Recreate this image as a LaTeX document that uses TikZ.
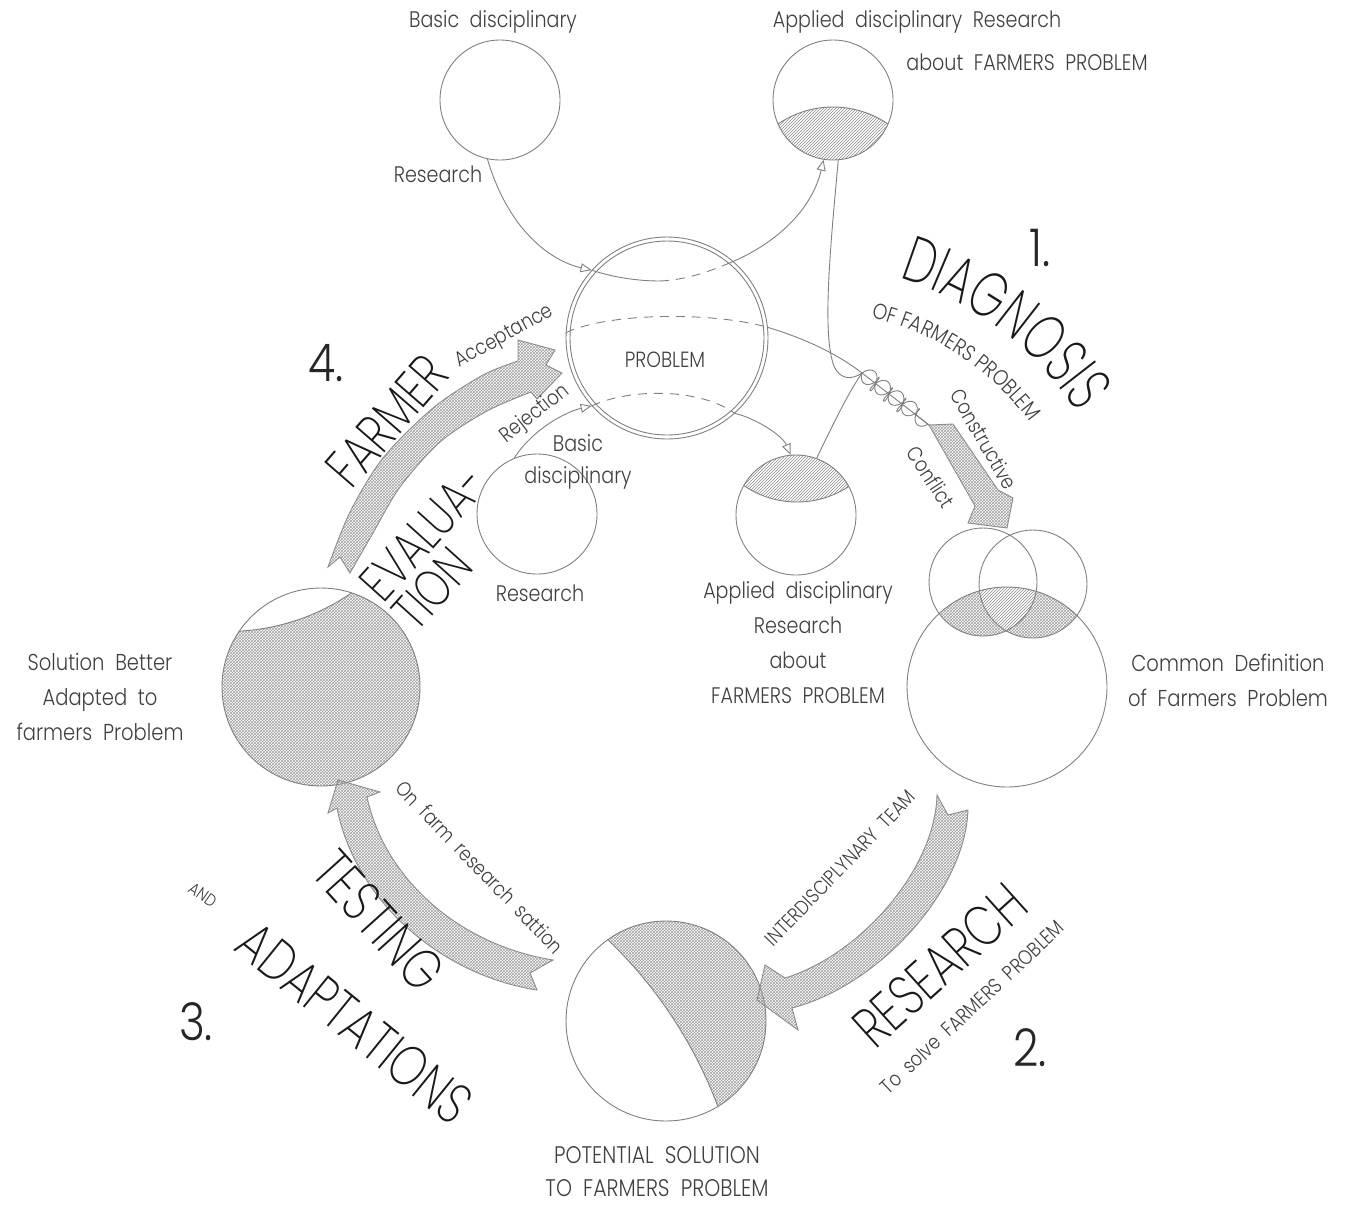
\documentclass[tikz,border=0pt]{standalone}
\usepackage{fontspec}
\usepackage{graphicx}
% lightest Poppins cut that is available
\def\mainfam{Poppins}
\def\bigfam{Poppins}
\IfFontExistsTF{Poppins Light}{\def\mainfam{Poppins Light}\def\bigfam{Poppins Light}}{}
\IfFontExistsTF{Poppins ExtraLight}{\def\bigfam{Poppins ExtraLight}}{}
\expandafter\setmainfont\expandafter{\mainfam}[FakeStretch=0.85]
\expandafter\newfontfamily\expandafter\bigfont\expandafter{\bigfam}[FakeStretch=0.78]
\expandafter\newfontfamily\expandafter\diagfont\expandafter{\bigfam}[FakeStretch=0.70]
\usetikzlibrary{patterns,arrows.meta,decorations.text,decorations.pathmorphing,calc}
\newcommand\fsz[1]{\fontsize{#1}{#1}\selectfont}
\newcommand\fszl[2]{\fontsize{#1}{#2}\selectfont}

\begin{document}
\begin{tikzpicture}[x=1pt,y=1pt,
  sphere/.style={draw=black!50, line width=0.9pt, circle, inner sep=0pt},
  linkline/.style={draw=black!50, line width=0.9pt},
  opentip/.style={-{Triangle[open,length=11pt,width=9pt]}},
  xhatch/.style={pattern=crosshatch, pattern color=black!38},
  dhatch/.style={pattern=north east lines, pattern color=black!45},
  bandfill/.style={draw=black!45, line width=0.9pt, pattern=crosshatch, pattern color=black!38},
  lbltext/.style={text=black!75, font=\fsz{22.5}, inner sep=0pt, align=center},
  tilttext/.style={text=black!75, font=\fsz{21}, inner sep=0pt},
  bigtext/.style={text=black!90, font=\bigfont\fsz{57}, inner sep=0pt},
  numtext/.style={text=black!85, font=\fsz{52}, inner sep=0pt}]
\useasboundingbox (0,0) rectangle (1351,-1205);

% ---------- shaded parts of the spheres ----------
% applied research (top): lower cap
\begin{scope}
  \clip (833,-100) circle (60);
  \fill[dhatch] (833,-204.5) circle (97.5);
\end{scope}
% applied research (middle): upper cap
\begin{scope}
  \clip (796,-515) circle (60);
  \fill[dhatch] (797,-408) circle (94);
\end{scope}
% common definition: overlaps with the two small spheres
\begin{scope}
  \clip (1007,-687) circle (100);
  \fill[xhatch] (983,-582) circle (54);
  \fill[xhatch] (1033,-584) circle (54);
\end{scope}
\begin{scope}
  \clip (1007,-687) circle (100);
  \clip (983,-582) circle (54);
  \fill[white] (1033,-584) circle (54);
  \fill[dhatch] (1033,-584) circle (54);
\end{scope}
% potential solution: right crescent
\begin{scope}
  \clip (666,-1021) circle (100);
  \fill[xhatch, even odd rule] (666,-1021) circle (100) (295.5,-1265) circle (451);
\end{scope}
% solution better adapted: all but a top-left cap
\begin{scope}
  \clip (321,-687) circle (99);
  \fill[xhatch, even odd rule] (321,-687) circle (99) (227,-411.5) circle (220);
\end{scope}

% ---------- spheres ----------
\node[sphere, minimum size=120pt] (bt) at (500,-100) {};
\node[sphere, minimum size=120pt] (at) at (833,-100) {};
\node[sphere, minimum size=202pt] (pr) at (667,-338) {};
\node[sphere, minimum size=194pt] (pri) at (667,-338) {};
\node[sphere, minimum size=120pt] (mb) at (537,-514) {};
\node[sphere, minimum size=120pt] (ma) at (796,-515) {};
\node[sphere, minimum size=200pt] (cd) at (1007,-687) {};
\node[sphere, minimum size=108pt] (cdl) at (983,-582) {};
\node[sphere, minimum size=108pt] (cdr) at (1033,-584) {};
\node[sphere, minimum size=200pt] (ps) at (666,-1021) {};
\node[sphere, minimum size=198pt] (sb) at (321,-687) {};
% inner boundaries of the shaded parts
\begin{scope}
  \clip (833,-100) circle (60);
  \draw[linkline] (833,-204.5) circle (97.5);
\end{scope}
\begin{scope}
  \clip (796,-515) circle (60);
  \draw[linkline] (797,-408) circle (94);
\end{scope}
\begin{scope}
  \clip (666,-1021) circle (100);
  \draw[linkline] (295.5,-1265) circle (451);
\end{scope}
\begin{scope}
  \clip (321,-687) circle (99);
  \draw[linkline] (227,-411.5) circle (220);
\end{scope}

% ---------- research links through the problem ----------
\coordinate (k1) at (862,-373);
\coordinate (k2) at (929,-425);
\draw[linkline, opentip] (bt.258) .. controls (510,-235) and (555,-262) .. (pr.138);
\draw[linkline] (pr.138) .. controls (615,-278) and (640,-281) .. (660,-281);
\draw[linkline, dash pattern=on 9pt off 7pt] (660,-281) .. controls (685,-280) and (708,-272) .. (727,-264);
\draw[linkline, opentip] (727,-264) .. controls (775,-245) and (812,-210) .. (at.261);

\draw[linkline, dash pattern=on 9pt off 7pt] (pr.177) .. controls (610,-312) and (715,-312) .. (pr.6);
\draw[linkline] (pr.6) .. controls (800,-337) and (835,-352) .. (k1);

\draw[linkline, opentip] (mb.112) .. controls (532,-430) and (565,-412) .. (pr.222);
\draw[linkline, dash pattern=on 9pt off 7pt] (pr.222) .. controls (630,-388) and (700,-388) .. (pr.312);
\draw[linkline, opentip] (pr.312) .. controls (755,-418) and (782,-435) .. (ma.95);

\draw[linkline] (ma.70) .. controls (835,-420) and (850,-390) .. (k1);
\draw[linkline] (at.275) .. controls (830,-250) and (822,-335) .. (834,-366)
  .. controls (840,-380) and (852,-380) .. (k1);
% the strands twisting together
\draw[linkline] (k1) -- (k2);
\draw[linkline, decorate, decoration={coil, amplitude=9pt, segment length=17pt}] (k1) -- (k2);
\draw[linkline, decorate, decoration={coil, amplitude=7pt, segment length=17pt, mirror}] (k1) -- (k2);

% ---------- block arrows ----------
% constructive conflict
\path[bandfill] (k2) -- (953,-424) -- (998,-490) -- (1013,-498) -- (1007,-528)
  -- (968,-523) -- (975,-506) -- cycle;
% research
\path[bandfill] (937,-795) -- (948,-815) -- (968,-810)
  .. controls (965,-890) and (880,-985) .. (792,-1008)
  -- (798,-1030) -- (757,-1000) -- (765,-965) -- (785,-978)
  .. controls (860,-955) and (935,-870) .. cycle;
% testing and adaptations
\path[bandfill] (337,-808) .. controls (355,-900) and (440,-975) .. (537,-990)
  -- (530,-973) -- (553,-960)
  .. controls (460,-945) and (385,-880) .. (367,-797)
  -- (380,-792) -- (338,-780) -- (328,-813) -- cycle;
% farmer evaluation (split head)
\path[bandfill] (328,-567) -- (340,-557) -- (350,-573)
  -- plot[smooth] coordinates {(350,-573) (373,-533) (400,-487) (440,-442) (487,-411) (531,-392)}
  -- (537,-399) -- (562,-373) -- (546,-365) -- (555,-350) -- (518,-340) -- (518,-361)
  -- plot[smooth] coordinates {(518,-361) (483,-375) (433,-408) (383,-458) (350,-512) (328,-567)}
  -- cycle;

% ---------- labels ----------
\node[lbltext] (tBasic) at (493,-22) {Basic\ \ disciplinary};
\node[lbltext] (tRes1) at (438,-174) {Research};
\node[lbltext] (tApp1) at (917,-22) {Applied\ \ disciplinary\ \ Research};
\node[lbltext] (tApp2) at (1027,-62) {about\ \ FARMERS\ \ PROBLEM};
\node[lbltext, font=\fsz{22}] (tProb) at (665,-360) {PROBLEM};
\node[lbltext] (tBasic2) at (578,-443) {Basic};
\node[lbltext] (tDisc2) at (578,-478) {disciplinary};
\node[lbltext] (tRes2) at (540,-593) {Research};
\node[lbltext, font=\fszl{22.5}{35}] (tApp3) at (798,-643)
  {Applied\ \ disciplinary\\Research\\about\\FARMERS\ \ PROBLEM};
\node[lbltext, font=\fszl{23}{35}] (tCommon) at (1228,-680)
  {Common\ \ Definition\\of\ \ Farmers\ \ Problem};
\node[lbltext, font=\fszl{23}{35}] (tBetter) at (100,-697)
  {Solution\ \ Better\\Adapted\ \ to\\farmers\ \ Problem};
\node[lbltext, font=\fszl{24}{33}] (tPot) at (657,-1172)
  {POTENTIAL\ \ SOLUTION\\TO\ \ FARMERS\ \ PROBLEM};

\node[tilttext, rotate=29] (tAcc) at (505,-337) {Acceptance};
\node[tilttext, rotate=38] (tRej) at (535,-414) {Rejection};
\node[tilttext, rotate=-60] (tCons) at (984,-439) {Constructive};
\node[tilttext, rotate=-57] (tConf) at (931,-477) {Conflict};
\node[tilttext, rotate=46, font=\fsz{20}] (tInter) at (840,-868) {INTERDISCIPLYNARY\ \ TEAM};
\node[tilttext, rotate=43, font=\fsz{20.5}] (tSolve) at (972,-1007) {To\ \ solve\ \ FARMERS\ \ PROBLEM};
\node[tilttext, rotate=-46, font=\fsz{20.5}] (tFarm) at (480,-867) {On\ \ farm\ \ research\ \ sattion};
\node[tilttext, rotate=-35, font=\fsz{17}] (tAnd) at (203,-895) {AND};

\node[bigtext, rotate=49, font=\bigfont\fsz{55}] (tFarmer) at (387,-421) {FARMER};
\node[bigtext, rotate=48, align=left, font=\bigfont\fszl{52}{44}] (tEval) at (440,-548) {EVALUA-\\TION};
\node[bigtext, rotate=-48] (tTest) at (379,-921) {TESTING};
\node[bigtext, rotate=-39] (tAdapt) at (355,-1023) {ADAPTATIONS};
\node[bigtext, rotate=42] (tResearch) at (940,-965) {RESEARCH};

\path[decorate, decoration={text along path, text align=center,
  text={|\diagfont\fsz{64}\color{black!90}|DIAGNOSIS}}]
  (808,-585) ++(82:320) arc[start angle=82, end angle=24, radius=320];
\path[decorate, decoration={text along path, text align=center,
  text={|\fsz{22}\color{black!75}|OF FARMERS PROBLEM}}]
  (808,-585) ++(86:275) arc[start angle=86, end angle=27, radius=275];

\node[numtext] (n1) at (1040,-248) {1.};
\node[numtext] (n2) at (1030,-1048) {2.};
\node[numtext] (n3) at (196,-1022) {3.};
\node[numtext] (n4) at (326,-363) {4.};
\end{tikzpicture}
\end{document}
